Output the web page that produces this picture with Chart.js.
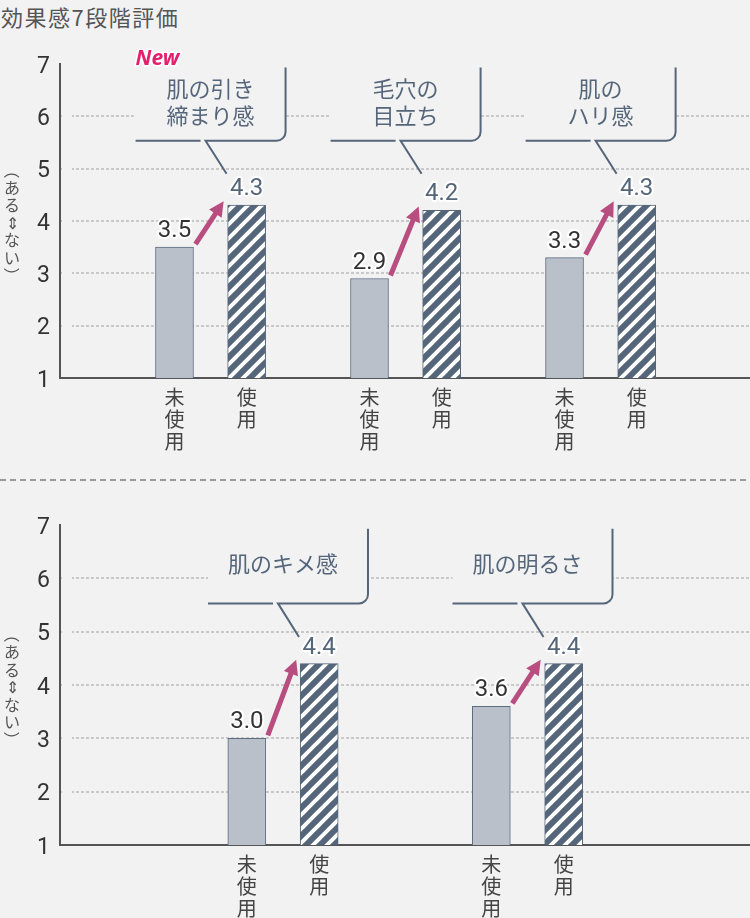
<!DOCTYPE html>
<html><head><meta charset="utf-8">
<script src="https://cdn.jsdelivr.net/npm/chart.js@4.4.0/dist/chart.umd.min.js"></script>
<style>
html,body{margin:0;padding:0;background:#f2f2f2;}
body{width:750px;height:918px;position:relative;overflow:hidden;font-family:"Noto Sans CJK JP",sans-serif;}
#title{position:absolute;left:1px;top:2px;font-size:22px;letter-spacing:1.5px;color:#555;line-height:28px;white-space:nowrap;}
#sep{position:absolute;left:0;top:479px;width:750px;height:2px;background:repeating-linear-gradient(to right,#9a9a9a 0 6px,transparent 6px 10px);}
.wrap{position:absolute;left:0;width:750px;}
</style></head>
<body>
<div id="title">効果感7段階評価</div>
<div id="sep"></div>
<div class="wrap" style="top:40px;height:430px"><canvas id="c1"></canvas></div>
<div class="wrap" style="top:465px;height:453px"><canvas id="c2"></canvas></div>
<script>
// ---- data ----
const topCategories = [["肌の引き","締まり感"],["毛穴の","目立ち"],["肌の","ハリ感"]];
const topBefore = [3.5, 2.9, 3.3];
const topAfter  = [4.3, 4.2, 4.3];
const topNew    = [true, false, false];
const bottomCategories = [["肌のキメ感"],["肌の明るさ"]];
const bottomBefore = [3.0, 3.6];
const bottomAfter  = [4.4, 4.4];
const bottomNew    = [false, false];
const seriesLabels = [["未","使","用"],["使","用"]];   // 未使用 / 使用
const yTicks = [1,2,3,4,5,6,7];
const yTitle = "（ある⇕ない）";
const newLabel = "New";

// ---- styles ----
const BG = '#f2f2f2';
const SLATE = '#55667b';
const AXIS = '#555555';
const PINK = '#b84d7f';

function stripePattern(){
  const c = document.createElement('canvas'); c.width = c.height = 14;
  const g = c.getContext('2d');
  g.fillStyle = '#ffffff'; g.fillRect(0,0,14,14);
  g.strokeStyle = SLATE; g.lineWidth = 6;
  for (const k of [0,14,28]) { g.beginPath(); g.moveTo(k-16,16); g.lineTo(16,k-16); g.stroke(); }
  return c;
}

function haloText(ctx, txt, x, y, color, w){
  ctx.lineJoin = 'round';
  ctx.strokeStyle = '#ffffff'; ctx.lineWidth = w;
  ctx.strokeText(txt, x, y);
  ctx.fillStyle = color; ctx.fillText(txt, x, y);
}

const decor = {
  id: 'decor',
  beforeDatasetsDraw(chart, args, o){
    const {ctx, chartArea:a, scales:{x, y}} = chart;
    ctx.save();
    ctx.fillStyle = BG;
    ctx.fillRect(a.left+2, a.top-3, 10, y.getPixelForValue(1.5)-a.top+3);
    o.cats.forEach((t,i)=>{
      const c = x.getPixelForValue(i);
      const T = y.getPixelForValue(o.boxTop), B = y.getPixelForValue(o.boxBottom);
      ctx.fillRect(c+o.boxL, T-2, o.boxR-o.boxL, B-T+2);
    });
    ctx.restore();
  },
  afterDatasetsDraw(chart, args, o){
    const {ctx, chartArea:a, scales:{x, y}} = chart;
    const m0 = chart.getDatasetMeta(0).data, m1 = chart.getDatasetMeta(1).data;
    ctx.save();
    // vertical y-axis title
    const chars = Array.from(yTitle), pitch0 = 17.5;
    const cy = (a.top + a.bottom)/2 + 2;
    ctx.font = '16px "Noto Sans CJK JP"'; ctx.fillStyle = '#555'; ctx.textAlign = 'center'; ctx.textBaseline = 'middle';
    chars.forEach((ch,k)=>{
      const yy = cy + (k-(chars.length-1)/2)*pitch0;
      if (ch === '（' || ch === '）') {
        ctx.save(); ctx.translate(12, yy); ctx.rotate(Math.PI/2); ctx.fillText(ch, 0, 0); ctx.restore();
      } else ctx.fillText(ch, 12, yy);
    });
    // value labels
    ctx.font = '24px Roboto'; ctx.textAlign = 'center'; ctx.textBaseline = 'alphabetic';
    m0.forEach((b,i)=> haloText(ctx, o.before[i].toFixed(1), b.x, b.y-10, '#333333', 4));
    m1.forEach((b,i)=> haloText(ctx, o.after[i].toFixed(1), b.x, b.y-10, SLATE, 4));
    // arrows
    m0.forEach((p,i)=>{
      const b = m1[i];
      const x0 = p.x + p.width/2 + 2, y0 = p.y - 3;
      const x1 = b.x - b.width/2 - 4, y1 = b.y - 4;
      const dx = x1-x0, dy = y1-y0, len = Math.hypot(dx,dy), ux = dx/len, uy = dy/len;
      const hl = 15, hw = 7.5;
      ctx.strokeStyle = PINK; ctx.fillStyle = PINK; ctx.lineWidth = 5; ctx.lineCap = 'butt';
      ctx.beginPath(); ctx.moveTo(x0,y0); ctx.lineTo(x1-ux*(hl-2), y1-uy*(hl-2)); ctx.stroke();
      ctx.beginPath();
      ctx.moveTo(x1,y1);
      ctx.lineTo(x1-ux*hl - uy*hw, y1-uy*hl + ux*hw);
      ctx.lineTo(x1-ux*hl + uy*hw, y1-uy*hl - ux*hw);
      ctx.closePath(); ctx.fill();
    });
    // callouts
    o.cats.forEach((lines,i)=>{
      const c = x.getPixelForValue(i);
      const T = y.getPixelForValue(o.boxTop), B = y.getPixelForValue(o.boxBottom);
      const L = c+o.boxL, R = c+o.boxR, r = 9;
      const tx = c+16, ty = y.getPixelForValue(o.tailY);
      ctx.strokeStyle = SLATE; ctx.lineWidth = 2; ctx.lineCap = 'butt'; ctx.lineJoin = 'miter';
      ctx.beginPath();
      ctx.moveTo(L,B); ctx.lineTo(c-10,B);
      ctx.moveTo(tx,ty); ctx.lineTo(c-5,B); ctx.lineTo(R-r,B); ctx.arcTo(R,B,R,B-r,r); ctx.lineTo(R,T);
      ctx.stroke();
      ctx.fillStyle = SLATE; ctx.font = '22px "Noto Sans CJK JP"'; ctx.textAlign = 'center'; ctx.textBaseline = 'middle';
      const mid = (T+B)/2 - 2, pitch = 27;
      lines.forEach((ln,k)=> ctx.fillText(ln, c, mid + (k-(lines.length-1)/2)*pitch));
      if (o.isNew[i]) {
        ctx.font = 'italic bold 21px "Noto Sans"'; ctx.textAlign = 'left'; ctx.textBaseline = 'alphabetic';
        haloText(ctx, newLabel, L, T-2, '#e4206e', 3);
      }
    });
    ctx.restore();
  }
};

function makeChart(id, cats, before, after, isNew, L){
  const tickPos = [];
  cats.forEach((c,i)=>{ tickPos.push(i-L.off, i+L.off); });
  const pattern = document.getElementById(id).getContext('2d').createPattern(stripePattern(),'repeat');
  return new Chart(document.getElementById(id), {
    type: 'bar',
    data: {
      datasets: [
        { label: seriesLabels[0].join(''), data: before.map((v,i)=>({x:i-L.off, y:v})),
          backgroundColor: '#b9c0c9', borderColor: '#5d6c80', borderWidth: 1, barThickness: 38, grouped: false },
        { label: seriesLabels[1].join(''), data: after.map((v,i)=>({x:i+L.off, y:v})),
          backgroundColor: pattern, borderColor: SLATE, borderWidth: 1, barThickness: 38, grouped: false }
      ]
    },
    options: {
      responsive: true, maintainAspectRatio: false, animation: false, devicePixelRatio: 1,
      layout: { padding: { top: L.padTop, left: 0, right: 0, bottom: 0 } },
      plugins: { legend: {display:false}, tooltip: {enabled:false},
        decor: { cats, before, after, isNew, boxL: L.boxL, boxR: L.boxR, boxTop: 6.93, boxBottom: 5.53, tailY: 4.9 } },
      scales: {
        x: { type: 'linear', min: L.xMin, max: L.xMax, offset: false,
          afterBuildTicks(s){ s.ticks = tickPos.map(v=>({value:v})); },
          afterFit(s){ s.height = L.xAxisH; },
          ticks: { autoSkip:false, maxRotation:0, minRotation:0, padding: 9, color:'#444',
            font: { family:'"Noto Sans CJK JP"', size:20, lineHeight:1.08 },
            callback: (v, idx) => seriesLabels[idx % 2] },
          grid: { display:false, drawTicks:false, offset:false },
          border: { display:true, color: AXIS, width: 2 }
        },
        y: { min: 1, max: 7,
          afterBuildTicks(s){ s.ticks = yTicks.map(v=>({value:v})); },
          afterFit(s){ s.width = 60; },
          ticks: { padding: 10, color:'#333', font:{ family:'Roboto', size:23 }, labelOffset: 3 },
          grid: { color: c => (c.tick && c.tick.value > 1 && c.tick.value < 7) ? '#c9c9c9' : 'rgba(0,0,0,0)',
                  lineWidth: 2, drawTicks:false },
          border: { display:true, color: AXIS, width: 2, dash:[3,2] }
        }
      }
    },
    plugins: [decor]
  });
}

makeChart('c1', topCategories, topBefore, topAfter, topNew,
  { xMin:-0.772, xMax:2.766, off:0.185, padTop:20, xAxisH:92, boxL:-75, boxR:75 });
makeChart('c2', bottomCategories, bottomBefore, bottomAfter, bottomNew,
  { xMin:-0.912, xMax:1.910, off:0.148, padTop:60, xAxisH:73, boxL:-75, boxR:85 });
</script>
</body></html>
